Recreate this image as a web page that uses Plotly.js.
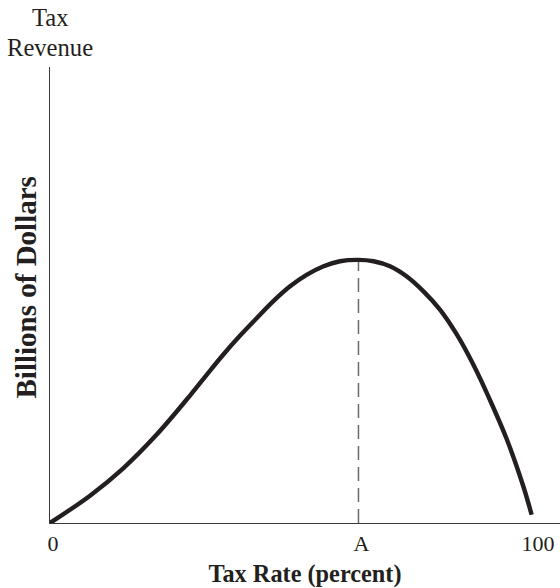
<!DOCTYPE html>
<html>
<head>
<meta charset="utf-8">
<script src="https://cdn.plot.ly/plotly-3.0.1.min.js"></script>
<style>
  html, body { margin: 0; padding: 0; background: #fff; }
  #chart { width: 560px; height: 588px; }
</style>
</head>
<body>
<div id="chart"></div>
<script>
// Tax rate (percent) and tax revenue (relative units, billions of dollars)
const taxRate = [0, 8.25, 15.1, 22.0, 28.9, 32.3, 35.7, 39.2, 42.6, 46.0, 49.5, 52.9, 56.4, 59.8, 63.6, 66.7, 70.1, 73.5, 77.0, 80.4, 83.9, 87.3, 90.7, 94.2, 97.6, 99.3];
const revenue = [0, 6.0, 12.0, 19.4, 28.0, 32.5, 36.9, 41.1, 44.9, 48.6, 51.9, 54.4, 56.3, 57.4, 57.7, 57.4, 56.3, 54.1, 50.8, 46.8, 41.3, 34.7, 27.0, 18.3, 8.0, 1.8];

// Revenue-maximizing rate "A"
const peakRate = [63.6, 63.6];
const peakLine = [0, 57.7];

const tickValues = [0, 63.6, 100];
const tickLabels = ['0', 'A', '100'];

const serif = 'Liberation Serif, Times New Roman, serif';

const traces = [
  {
    x: peakRate, y: peakLine,
    mode: 'lines',
    line: { color: '#6a6a6a', width: 1.5, dash: '14px,7px' },
    hoverinfo: 'skip',
    showlegend: false
  },
  {
    x: taxRate, y: revenue,
    mode: 'lines',
    line: { color: '#231f20', width: 4.4, shape: 'spline', smoothing: 1 },
    cliponaxis: false,
    showlegend: false
  }
];

const layout = {
  width: 560, height: 588,
  margin: { l: 50, r: 0, t: 67, b: 65 },
  paper_bgcolor: '#fff', plot_bgcolor: '#fff',
  font: { family: serif, color: '#231f20', size: 22 },
  showlegend: false,
  xaxis: {
    range: [0, 105.15],
    showgrid: false, zeroline: false,
    showline: true, linecolor: '#3a3a3a', linewidth: 1.3,
    ticks: '',
    tickvals: tickValues, ticktext: tickLabels,
    tickfont: { family: serif, size: 22, color: '#231f20' },
    ticklabelshift: 3,
    title: { text: '<b>Tax Rate (percent)</b>', font: { family: serif, size: 24.3, color: '#231f20' }, standoff: 12 },
    fixedrange: true
  },
  yaxis: {
    range: [0, 100],
    showgrid: false, zeroline: false,
    showline: true, linecolor: '#3a3a3a', linewidth: 1.3,
    ticks: '', showticklabels: false,
    fixedrange: true
  },
  annotations: [
    {
      xref: 'paper', yref: 'paper', x: 0, y: 0.5,
      xanchor: 'center', yanchor: 'middle',
      xshift: -25, yshift: 7.5,
      textangle: -90,
      text: '<b>Billions of Dollars</b>', showarrow: false,
      font: { family: serif, size: 29, color: '#231f20' }
    },
    {
      xref: 'paper', yref: 'paper', x: 0, y: 1,
      xanchor: 'center', yanchor: 'middle',
      yshift: 50,
      text: 'Tax', showarrow: false,
      font: { family: serif, size: 24.6, color: '#231f20' }
    },
    {
      xref: 'paper', yref: 'paper', x: 0, y: 1,
      xanchor: 'center', yanchor: 'middle',
      yshift: 20,
      text: 'Revenue', showarrow: false,
      font: { family: serif, size: 24.6, color: '#231f20' }
    }
  ]
};

Plotly.newPlot('chart', traces, layout, { displayModeBar: false, staticPlot: true });
</script>
</body>
</html>
